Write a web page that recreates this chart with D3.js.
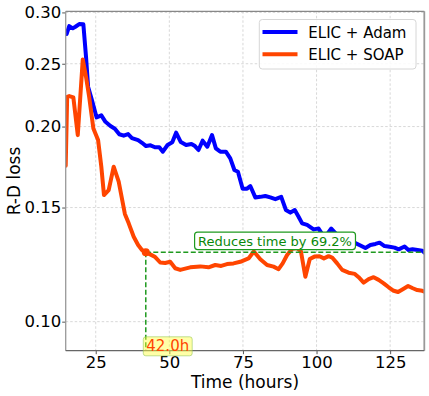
<!DOCTYPE html>
<html>
<head>
<meta charset="utf-8">
<script src="https://cdn.jsdelivr.net/npm/d3@7"></script>
<style>
  html, body { margin: 0; padding: 0; background: #fff; }
  svg { display: block; font-family: "DejaVu Sans", sans-serif; }
</style>
</head>
<body>
<svg id="chart" width="429" height="396"></svg>
<script>
// ---- data ----
const xTicks = [25, 50, 75, 100, 125];
const yTicks = [0.10, 0.15, 0.20, 0.25, 0.30];
const seriesNames = ["ELIC + Adam", "ELIC + SOAP"];

const adamSeries = [
  [15.1,0.2778],[16.0,0.2858],[17.2,0.2835],[18.1,0.2851],[19.4,0.2878],[20.8,0.2876],
  [21.7,0.2563],[22.4,0.2304],[23.7,0.2197],[25.3,0.2066],[26.9,0.2081],[28.3,0.2034],
  [30.0,0.2004],[31.5,0.1985],[33.0,0.1946],[34.5,0.1936],[36.0,0.1947],[37.3,0.1920],
  [39.4,0.1906],[40.7,0.1888],[42.1,0.1866],[43.6,0.1871],[45.1,0.1858],[46.6,0.1858],
  [47.8,0.1829],[49.4,0.1873],[51.0,0.1891],[52.3,0.1957],[53.9,0.1893],[55.7,0.1873],
  [57.5,0.1880],[58.7,0.1866],[59.9,0.1840],[61.3,0.1902],[62.9,0.1862],[64.5,0.1940],
  [65.8,0.1851],[67.3,0.1829],[69.2,0.1829],[70.7,0.1786],[72.1,0.1714],[73.3,0.1703],
  [74.9,0.1604],[76.4,0.1604],[77.5,0.1619],[79.2,0.1555],[80.9,0.1558],[82.6,0.1563],
  [84.3,0.1555],[86.0,0.1545],[88.0,0.1558],[89.6,0.1487],[91.1,0.1473],[92.6,0.1487],
  [93.9,0.1452],[95.1,0.1418],[96.8,0.1410],[99.0,0.1388],[100.7,0.1392],[101.9,0.1365],
  [103.6,0.1365],[105.0,0.1392],[106.4,0.1370],[108.1,0.1351],[109.8,0.1341],[111.5,0.1332],
  [113.2,0.1322],[114.9,0.1311],[116.6,0.1299],[118.3,0.1313],[120.0,0.1318],[121.4,0.1324],
  [123.1,0.1308],[124.8,0.1305],[126.5,0.1301],[127.9,0.1293],[129.9,0.1306],[131.2,0.1290],
  [132.6,0.1293],[134.3,0.1290],[135.9,0.1287],[136.6,0.1278]
];

const soapSeries = [
  [14.8,0.1740],[15.3,0.2223],[16.0,0.2229],[17.4,0.2218],[18.9,0.1940],[20.6,0.2539],
  [21.7,0.2387],[22.8,0.2218],[24.2,0.1987],[25.8,0.1906],[26.9,0.1734],[27.8,0.1568],
  [29.4,0.1596],[31.1,0.1734],[32.8,0.1644],[34.9,0.1466],[36.2,0.1418],[37.9,0.1352],
  [39.4,0.1313],[40.7,0.1290],[42.0,0.1280],[43.5,0.1270],[45.2,0.1258],[46.9,0.1234],
  [48.6,0.1232],[50.3,0.1237],[52.0,0.1209],[53.7,0.1202],[57.1,0.1213],[60.5,0.1217],
  [63.3,0.1213],[65.6,0.1223],[67.6,0.1219],[69.6,0.1227],[71.8,0.1230],[74.1,0.1237],
  [76.9,0.1252],[78.7,0.1283],[80.9,0.1248],[83.2,0.1223],[85.4,0.1216],[87.1,0.1205],
  [88.5,0.1230],[90.0,0.1267],[91.7,0.1295],[93.3,0.1299],[94.7,0.1284],[96.2,0.1173],
  [97.7,0.1249],[99.3,0.1260],[101.0,0.1262],[102.5,0.1252],[104.1,0.1262],[105.3,0.1256],
  [107.0,0.1230],[108.7,0.1202],[110.9,0.1190],[113.0,0.1185],[114.3,0.1171],[116.0,0.1149],
  [117.7,0.1163],[119.4,0.1171],[121.1,0.1160],[122.8,0.1146],[124.5,0.1130],[126.2,0.1116],
  [127.7,0.1111],[129.3,0.1122],[131.1,0.1135],[132.7,0.1126],[134.2,0.1119],[135.9,0.1116],
  [136.6,0.1113]
];

const markTime = 42.0;
const markLoss = 0.1280;
const endTime = 136.6;
const annotText = "Reduces time by 69.2%";
const markLabel = "42.0h";

// ---- layout ----
const svg = d3.select("#chart");
const L = 65.7, R = 424.3, T = 11.3, B = 350.7;
const x = d3.scaleLinear().domain([14.8, 136.6]).range([L, R]);
const y = d3.scaleLog().domain([0.0902, 0.3012]).range([B, T]);

// grid
const grid = svg.append("g");
grid.selectAll(".gx").data(xTicks).enter().append("line")
  .attr("x1", d => x(d)).attr("x2", d => x(d)).attr("y1", T).attr("y2", B)
  .attr("stroke", "#d4d4d4").attr("stroke-width", 0.9).attr("stroke-dasharray", "2.5,2");
grid.selectAll(".gy").data(yTicks).enter().append("line")
  .attr("x1", L).attr("x2", R).attr("y1", d => y(d)).attr("y2", d => y(d))
  .attr("stroke", "#d4d4d4").attr("stroke-width", 0.9).attr("stroke-dasharray", "2.5,2");

// axes
const xAxis = svg.append("g").attr("transform", `translate(0,${B})`)
  .call(d3.axisBottom(x).tickValues(xTicks).tickSize(3.5).tickPadding(2).tickFormat(d3.format("d")));
const yAxis = svg.append("g").attr("transform", `translate(${L},0)`)
  .call(d3.axisLeft(y).tickValues(yTicks).tickSize(3.5).tickPadding(1).tickFormat(d3.format(".2f")));
[xAxis, yAxis].forEach(g => {
  g.select(".domain").remove();
  g.selectAll(".tick line").attr("stroke", "#555").attr("stroke-width", 1);
  g.selectAll(".tick text").attr("fill", "#000").style("font-size", "16.5px")
    .style("font-family", "DejaVu Sans, sans-serif");
});

// clip
svg.append("defs").append("clipPath").attr("id", "clip")
  .append("rect").attr("x", L).attr("y", T).attr("width", R - L).attr("height", B - T);

const line = d3.line().x(d => x(d[0])).y(d => y(d[1]));
const plot = svg.append("g").attr("clip-path", "url(#clip)");
plot.append("path").datum(adamSeries).attr("d", line)
  .attr("fill", "none").attr("stroke", "#0000ff").attr("stroke-width", 4)
  .attr("stroke-linejoin", "round").attr("stroke-linecap", "round");
plot.append("path").datum(soapSeries).attr("d", line)
  .attr("fill", "none").attr("stroke", "#ff4500").attr("stroke-width", 4)
  .attr("stroke-linejoin", "round").attr("stroke-linecap", "round");

// annotation dashed lines
svg.append("line")
  .attr("x1", x(markTime)).attr("x2", x(endTime)).attr("y1", y(markLoss)).attr("y2", y(markLoss))
  .attr("stroke", "#1f9a1f").attr("stroke-width", 1.5).attr("stroke-dasharray", "5,2.5");
svg.append("line")
  .attr("x1", x(markTime)).attr("x2", x(markTime)).attr("y1", y(markLoss)).attr("y2", B)
  .attr("stroke", "#1f9a1f").attr("stroke-width", 1.5).attr("stroke-dasharray", "5,2.5");
svg.append("circle").attr("cx", x(markTime)).attr("cy", y(markLoss)).attr("r", 4)
  .attr("fill", "#ff4500");

// spines
const spine = svg.append("g").attr("fill", "none");
spine.append("line").attr("x1", L).attr("x2", R).attr("y1", T).attr("y2", T).attr("stroke", "#888").attr("stroke-width", 1.2);
spine.append("line").attr("x1", L).attr("x2", L).attr("y1", T).attr("y2", B).attr("stroke", "#999").attr("stroke-width", 1.3);
spine.append("line").attr("x1", R).attr("x2", R).attr("y1", T).attr("y2", B).attr("stroke", "#999").attr("stroke-width", 1.8);
spine.append("line").attr("x1", L).attr("x2", R).attr("y1", B).attr("y2", B).attr("stroke", "#666").attr("stroke-width", 1.2);

// "Reduces time" box
const annX = (x(markTime) + x(endTime)) / 2 - 10;
const ann = svg.append("g");
const annT = ann.append("text").attr("x", annX).attr("y", y(markLoss) - 6.6)
  .attr("text-anchor", "middle").attr("fill", "#0a870a").style("font-size", "13px").text(annotText);
const bb = annT.node().getBBox();
ann.insert("rect", "text").attr("x", bb.x - 3.5).attr("y", bb.y - 1.5)
  .attr("width", bb.width + 7).attr("height", bb.height + 2.5).attr("rx", 3)
  .attr("fill", "#fff").attr("stroke", "#1f9a1f").attr("stroke-width", 1.2);

// "42.0h" label
const lab = svg.append("g");
const labT = lab.append("text").attr("x", x(markTime) + 0.5).attr("y", 351.3)
  .attr("fill", "#ff4500").style("font-size", "15px").text(markLabel);
const lb = labT.node().getBBox();
lab.insert("rect", "text").attr("x", lb.x - 3).attr("y", lb.y - 0.5)
  .attr("width", lb.width + 6).attr("height", lb.height + 1).attr("rx", 2.5)
  .attr("fill", "rgba(255,255,60,0.45)").attr("stroke", "rgba(150,200,90,0.6)").attr("stroke-width", 1);

// axis labels
svg.append("text").attr("x", (L + R) / 2).attr("y", 387.5).attr("text-anchor", "middle")
  .style("font-size", "17px").text("Time (hours)");
svg.append("text").attr("transform", `translate(19.5,${(T + B) / 2}) rotate(-90)`)
  .attr("text-anchor", "middle").style("font-size", "17px").text("R-D loss");

// legend
const leg = svg.append("g");
leg.append("rect").attr("x", 259.3).attr("y", 19.5).attr("width", 156.7).attr("height", 49.5).attr("rx", 3)
  .attr("fill", "rgba(255,255,255,0.85)").attr("stroke", "#d6d6d6").attr("stroke-width", 1);
const legColors = ["#0000ff", "#ff4500"];
const legY = [32, 54.3];
seriesNames.forEach((n, i) => {
  leg.append("line").attr("x1", 262.5).attr("x2", 297.5).attr("y1", legY[i]).attr("y2", legY[i])
    .attr("stroke", legColors[i]).attr("stroke-width", 4);
  leg.append("text").attr("x", 308.3).attr("y", legY[i] + 5.6)
    .style("font-size", "15px").attr("fill", "#000").text(n);
});
</script>
</body>
</html>
